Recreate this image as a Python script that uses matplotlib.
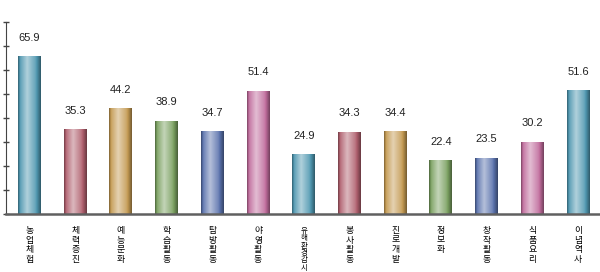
import matplotlib.pyplot as plt
import matplotlib.colors as mcolors
import numpy as np

plt.rcParams['font.family'] = ['Noto Sans CJK KR', 'DejaVu Sans']

categories = ['농업체험', '체력증진', '예능문화', '학습활동', '탐방활동', '야영활동',
              '유해환경감시', '봉사활동', '진로개발', '정보화', '창작활동', '식품요리', '이념역사']
values = [65.9, 35.3, 44.2, 38.9, 34.7, 51.4, 24.9, 34.3, 34.4, 22.4, 23.5, 30.2, 51.6]
palette = ['#4f97b0', '#b0606e', '#c49a52', '#7aa060', '#5a72ac', '#c06c9c']


def shade(c, amt):
    # amt > 0 lightens toward white, amt < 0 darkens toward black
    c = np.array(mcolors.to_rgb(c))
    if amt > 0:
        return c + (1 - c) * amt
    return c * (1 + amt)


fig = plt.figure(figsize=(6, 2.72), dpi=100)
ax = fig.add_axes([0.01, 0.2132, 0.99, 0.706])

x = np.arange(len(values))
bars = ax.bar(x, values, width=0.5, color='none', edgecolor='none')

# cylinder look: horizontal gradient clipped to each bar
prof = np.linspace(0, 1, 64)
weight = np.interp(prof, [0, 0.1, 0.4, 0.75, 1], [-0.35, 0.1, 0.55, 0.15, -0.4])
for i, b in enumerate(bars):
    base = palette[i % len(palette)]
    grad = np.array([shade(base, w) for w in weight])[None, :, :]
    x0, w, h = b.get_x(), b.get_width(), b.get_height()
    im = ax.imshow(grad, extent=[x0, x0 + w, 0, h], aspect='auto', zorder=2,
                   interpolation='bilinear')
    im.set_clip_path(b)
    ax.text(b.get_x() + w / 2, h + 5.5, f'{values[i]:.1f}', ha='center', va='bottom',
            fontsize=8, family='Liberation Sans', color='#222222')

ax.set_xlim(-0.514, 12.48)
ax.set_ylim(0, 80)
ax.set_yticks(np.arange(0, 81, 10))
ax.set_yticklabels([])
ax.tick_params(axis='y', direction='inout', length=4, width=1, color='#444444')
ax.tick_params(axis='x', length=0)
ax.set_xticks(x)
ax.set_xticklabels([])

for s in ['top', 'right']:
    ax.spines[s].set_visible(False)
ax.spines['left'].set_color('#444444')
ax.spines['bottom'].set_color('#606060')
ax.spines['bottom'].set_linewidth(1.8)

# vertical labels: one character per row, placed by baseline
px = 72 / 100
for i, name in enumerate(categories):
    long = len(name) > 4
    step = 7.3 if long else 9.6
    size = 5.4 if long else 6.4
    for k, ch in enumerate(name):
        ax.annotate(ch, xy=(i, 0), xytext=(0, -(19 + k * step) * px),
                    textcoords='offset points', ha='center', va='baseline',
                    fontsize=size, color='black', annotation_clip=False)

fig.savefig('out.png', dpi=100)
